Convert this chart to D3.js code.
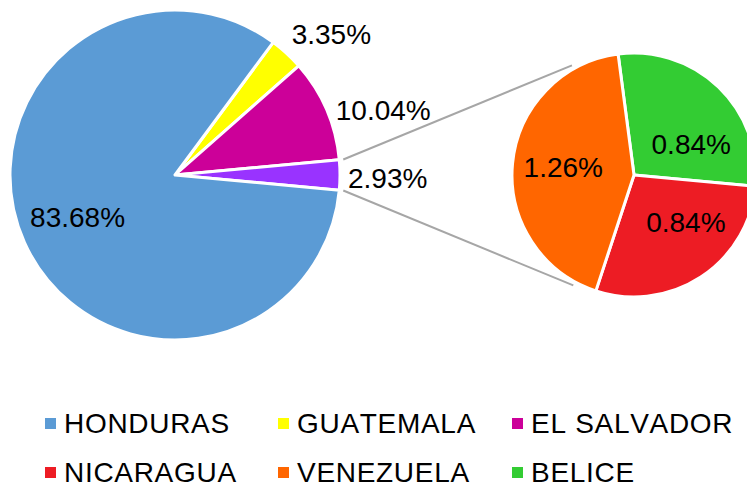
<!DOCTYPE html>
<html>
<head>
<meta charset="utf-8">
<script src="https://cdn.jsdelivr.net/npm/d3@7"></script>
<style>
  html, body { margin: 0; padding: 0; background: #fff; }
  svg { display: block; font-family: "Liberation Sans", Arial, sans-serif; font-kerning: none; }
</style>
</head>
<body>
<svg id="chart" width="747" height="482"></svg>
<script>
// ---- data ----
const mainCategories = ["GUATEMALA", "EL SALVADOR", "OTROS", "HONDURAS"];
const mainValues = [3.35, 10.04, 2.93, 83.68];
const mainColors = ["#FFFF00", "#CC0099", "#9933FF", "#5B9BD5"];

const subCategories = ["BELICE", "NICARAGUA", "VENEZUELA"];
const subValues = [0.84, 0.84, 1.26];
const subColors = ["#33CC33", "#ED1C24", "#FF6600"];

const legendCategories = ["HONDURAS", "GUATEMALA", "EL SALVADOR", "NICARAGUA", "VENEZUELA", "BELICE"];
const legendColors = ["#5B9BD5", "#FFFF00", "#CC0099", "#ED1C24", "#FF6600", "#33CC33"];

// ---- layout ----
const svg = d3.select("#chart");
const deg = Math.PI / 180;
const main = { cx: 175, cy: 175, r: 165 };
const sub = { cx: 634, cy: 175, r: 122 };
const fontSize = 28;
const capHalf = 10;

const mainTotal = d3.sum(mainValues);
const otherIdx = 2;
const before = d3.sum(mainValues.slice(0, otherIdx));
const mainStart = Math.PI / 2 - (mainValues[otherIdx] / mainTotal) * Math.PI - (before / mainTotal) * 2 * Math.PI;

const mainPie = d3.pie().sort(null).value(d => d)
  .startAngle(mainStart).endAngle(mainStart + 2 * Math.PI);
const mainArcs = mainPie(mainValues);

const subStart = -7.5 * deg;
const subPie = d3.pie().sort(null).value(d => d)
  .startAngle(subStart).endAngle(subStart + 2 * Math.PI);
const subArcs = subPie(subValues);

const mainArc = d3.arc().innerRadius(0).outerRadius(main.r);
const subArc = d3.arc().innerRadius(0).outerRadius(sub.r);

function polar(c, rad, a) {
  return [c.cx + rad * Math.sin(a), c.cy - rad * Math.cos(a)];
}

// connector lines
const oa = mainArcs[otherIdx];
const conn = [
  [polar(main, main.r + 4, oa.startAngle), polar(sub, sub.r + 4, -29.5 * deg)],
  [polar(main, main.r + 4, oa.endAngle), polar(sub, sub.r + 4, 208.8 * deg)]
];
svg.append("g").selectAll("line").data(conn).join("line")
  .attr("x1", d => d[0][0]).attr("y1", d => d[0][1])
  .attr("x2", d => d[1][0]).attr("y2", d => d[1][1])
  .attr("stroke", "#A6A6A6").attr("stroke-width", 2);

// main pie
svg.append("g").attr("transform", `translate(${main.cx},${main.cy})`)
  .selectAll("path").data(mainArcs).join("path")
  .attr("d", mainArc)
  .attr("fill", (d, i) => mainColors[i])
  .attr("stroke", "#fff").attr("stroke-width", 3).attr("stroke-linejoin", "round");

// sub pie
svg.append("g").attr("transform", `translate(${sub.cx},${sub.cy})`)
  .selectAll("path").data(subArcs).join("path")
  .attr("d", subArc)
  .attr("fill", (d, i) => subColors[i])
  .attr("stroke", "#fff").attr("stroke-width", 3).attr("stroke-linejoin", "round");

const fmt = v => v.toFixed(2) + "%";

// main labels
const mainLabelNudge = [[-1, -13], [1, 4], [-1, 3], [-1, -1]];
mainArcs.forEach((a, i) => {
  const mid = (a.startAngle + a.endAngle) / 2;
  let x, y, anchor;
  if (i === 3) {
    [x, y] = polar(main, main.r * 0.64, mid);
    anchor = "middle";
  } else {
    [x, y] = polar(main, main.r + 9, mid);
    anchor = "start";
  }
  svg.append("text")
    .attr("x", x + mainLabelNudge[i][0])
    .attr("y", y + capHalf + mainLabelNudge[i][1])
    .attr("text-anchor", anchor)
    .attr("font-size", fontSize)
    .attr("fill", "#000")
    .text(fmt(a.data));
});

// sub labels
const subLabelNudge = [[8, 20], [13, -12], [0, -1]];
subArcs.forEach((a, i) => {
  const mid = (a.startAngle + a.endAngle) / 2;
  const [x, y] = polar(sub, 71, mid);
  svg.append("text")
    .attr("x", x + subLabelNudge[i][0])
    .attr("y", y + capHalf + subLabelNudge[i][1])
    .attr("text-anchor", "middle")
    .attr("font-size", fontSize)
    .attr("fill", "#000")
    .text(fmt(a.data));
});

// legend
const colX = [45, 278, 512];
const rowY = [433, 482];
const lg = svg.append("g");
legendCategories.forEach((name, i) => {
  const cx = colX[i % 3], by = rowY[Math.floor(i / 3)];
  lg.append("rect")
    .attr("x", cx).attr("y", by - 15)
    .attr("width", 11).attr("height", 11)
    .attr("fill", legendColors[i]);
  lg.append("text")
    .attr("x", cx + 19).attr("y", by)
    .attr("font-size", fontSize)
    .attr("letter-spacing", 0.7)
    .attr("fill", "#000")
    .text(name);
});
</script>
</body>
</html>
